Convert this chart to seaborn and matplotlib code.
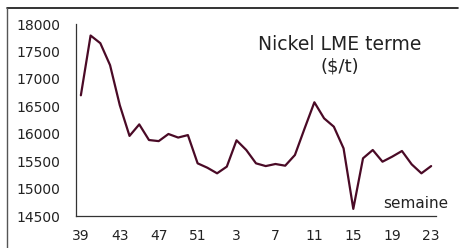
import numpy as np
import pandas as pd
import matplotlib
matplotlib.use("Agg")
import matplotlib.pyplot as plt
from matplotlib.lines import Line2D
import seaborn as sns

# weekly nickel LME forward price ($/t), weeks 39..52 then 1..23
weeks = list(range(39, 53)) + list(range(1, 24))
prices = [16700, 17790, 17650, 17250, 16520, 15960, 16170, 15885, 15865, 15995,
          15930, 15975, 15460, 15380, 15278, 15400, 15880, 15703, 15460, 15410,
          15448, 15417, 15612, 16098, 16573, 16280, 16128, 15733, 14630, 15552,
          15703, 15490, 15582, 15685, 15442, 15278, 15410]
yticks = [14500, 15000, 15500, 16000, 16500, 17000, 17500, 18000]

data = pd.DataFrame({"idx": range(len(weeks)), "week": weeks, "price": prices})

sns.set_style("white")
plt.rcParams["font.family"] = ["DejaVu Sans"]

fig = plt.figure(figsize=(4.59, 2.48), dpi=100)
ax = fig.add_axes([76 / 459, 1 - 216 / 248, 360 / 459, 192 / 248])

sns.lineplot(x="idx", y="price", data=data, ax=ax, color="#4a0a26",
             linewidth=1.6, solid_joinstyle="round")

ax.set_xlim(-0.5, len(weeks) - 0.5)
ax.set_ylim(14500, 18000)

# labels on categories, tick marks between groups of 4 weeks
lab_pos = list(range(0, len(weeks), 4))
ax.set_xticks(lab_pos)
ax.set_xticklabels([str(weeks[i]) for i in lab_pos])
ax.set_xticks([p - 0.5 for p in lab_pos[1:]] + [35.5], minor=True)
ax.tick_params(axis="x", which="major", length=0, pad=9, labelsize=10, colors="#222222")
ax.tick_params(axis="x", which="minor", length=5, width=0.9, color="#333333", direction="out")
ax.set_yticks(yticks)
ax.tick_params(axis="y", length=5, width=0.9, color="#333333", direction="out",
               pad=6, labelsize=10, labelcolor="#222222")

for s in ["top", "right"]:
    ax.spines[s].set_visible(False)
for s in ["left", "bottom"]:
    ax.spines[s].set_color("#333333")
    ax.spines[s].set_linewidth(0.9)
ax.set_xlabel("")
ax.set_ylabel("")

ax.text(340 / 459, 1 - 44 / 248, "Nickel LME terme", transform=fig.transFigure,
        ha="center", va="center", fontsize=13.5, color="#222222")
ax.text(340 / 459, 1 - 67 / 248, "($/t)", transform=fig.transFigure,
        ha="center", va="center", fontsize=13, color="#222222")
ax.text(416 / 459, 1 - 204 / 248, "semaine", transform=fig.transFigure,
        ha="center", va="center", fontsize=11, color="#222222")

# outer chart frame (right and bottom edges fall outside the picture)
fig.add_artist(Line2D([6.5 / 459, 458 / 459], [1 - 7.5 / 248, 1 - 7.5 / 248],
                      transform=fig.transFigure, color="#111111", linewidth=1.2))
fig.add_artist(Line2D([6.5 / 459, 6.5 / 459], [1 - 7.5 / 248, 0],
                      transform=fig.transFigure, color="#555555", linewidth=1.0))

fig.savefig("out.png", dpi=100)
